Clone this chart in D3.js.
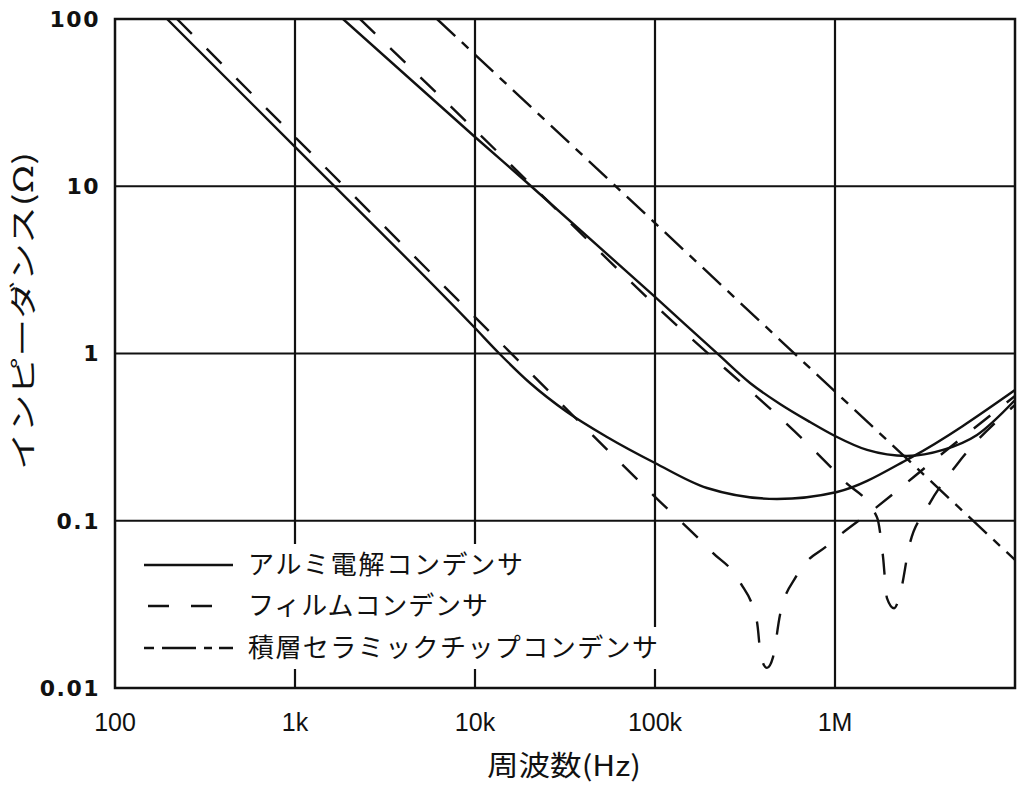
<!DOCTYPE html>
<html><head><meta charset="utf-8">
<script src="https://cdn.jsdelivr.net/npm/d3@7"></script>
<style>body{margin:0;background:#fff}</style>
</head><body><svg id="c" width="1024" height="786"></svg>
<script>
// ---- data ----
const xTicks = [100, 1e3, 1e4, 1e5, 1e6, 1e7];
const xTickLabels = ["100", "1k", "10k", "100k", "1M", ""];
const yTicks = [0.01, 0.1, 1, 10, 100];
const yTickLabels = ["0.01", "0.1", "1", "10", "100"];

const seriesNames = ["アルミ電解コンデンサ", "フィルムコンデンサ", "積層セラミックチップコンデンサ"];

// aluminium electrolytic (two curves, solid)
const alu1F = [194.5, 1000, 1e4, 13770, 20210, 32450, 54100, 1e5, 194500, 476000, 1.026e6, 2.61e6, 1e7];
const alu1Z = [100, 17.2, 1.42, 0.99, 0.666, 0.447, 0.317, 0.2215, 0.157, 0.135, 0.1486, 0.237, 0.605];
const alu2F = [1848, 1e4, 20730, 1e5, 223900, 337300, 494700, 726700, 1e6, 1.507e6, 2.51e6, 3.98e6, 6.15e6, 1e7];
const alu2Z = [100, 19.7, 9.9, 2.18, 0.99, 0.666, 0.499, 0.389, 0.321, 0.265, 0.244, 0.265, 0.326, 0.527];

// film (two curves, dashed)
const film1F = [221, 1000, 1e4, 1e5, 207400, 296500, 368700, 388000, 419000, 452600, 494700, 615000, 914000, 1.711e6, 3.98e6, 1e7];
const film1Z = [100, 19.7, 1.65, 0.139, 0.065, 0.043, 0.0248, 0.0153, 0.0132, 0.0153, 0.0273, 0.0474, 0.0716, 0.121, 0.254, 0.557];
const film2F = [2297, 1e4, 1e5, 1.107e6, 1.711e6, 1.849e6, 1.944e6, 2.13e6, 2.327e6, 2.577e6, 3.245e6, 4.82e6, 1e7];
const film2Z = [100, 21.7, 1.95, 0.1755, 0.105, 0.0607, 0.0345, 0.030, 0.0386, 0.0697, 0.119, 0.221, 0.492];

// multilayer ceramic chip (dash-dot)
const ceramF = [6150, 1e7];
const ceramZ = [100, 0.0583];

// ---- layout ----
const L = 115, R = 1015, T = 19, B = 688;
const svg = d3.select("#c");
const x = d3.scaleLog().domain([100, 1e7]).range([L, R]);
const y = d3.scaleLog().domain([0.01, 100]).range([B, T]);
const ink = "#111";
const lw = 2.4;

// grid
const g = svg.append("g");
g.selectAll("line.vx").data(xTicks.slice(1, -1)).join("line")
  .attr("x1", d => x(d)).attr("x2", d => x(d)).attr("y1", T).attr("y2", B)
  .attr("stroke", ink).attr("stroke-width", 2.2);
g.selectAll("line.hy").data(yTicks.slice(1, -1)).join("line")
  .attr("y1", d => y(d)).attr("y2", d => y(d)).attr("x1", L).attr("x2", R)
  .attr("stroke", ink).attr("stroke-width", 2.2);

// curves
svg.append("clipPath").attr("id", "clip").append("rect")
  .attr("x", L).attr("y", T).attr("width", R - L).attr("height", B - T);
const line = d3.line().x(d => x(d[0])).y(d => y(d[1])).curve(d3.curveMonotoneX);
const zip = (a, b) => a.map((v, i) => [v, b[i]]);
const curves = [
  {d: zip(alu1F, alu1Z), dash: null},
  {d: zip(alu2F, alu2Z), dash: null},
  {d: zip(film1F, film1Z), dash: "21,21"},
  {d: zip(film2F, film2Z), dash: "21,21"},
  {d: zip(ceramF, ceramZ), dash: "25,9,9,9"}
];
const cg = svg.append("g").attr("clip-path", "url(#clip)");
cg.selectAll("path").data(curves).join("path")
  .attr("d", c => line(c.d)).attr("fill", "none").attr("stroke", ink)
  .attr("stroke-width", lw).attr("stroke-dasharray", c => c.dash);

// legend
const rowsY = [565, 606, 648];
const textEnd = [523, 488, 658];
const lg = svg.append("g");
lg.selectAll("rect").data(rowsY).join("rect")
  .attr("x", 118).attr("y", (d, i) => d - 21).attr("width", (d, i) => textEnd[i] + 4 - 118)
  .attr("height", 42).attr("fill", "#fff");
// samples
lg.append("line").attr("x1", 144).attr("x2", 233).attr("y1", rowsY[0]).attr("y2", rowsY[0])
  .attr("stroke", ink).attr("stroke-width", lw);
lg.append("line").attr("x1", 148).attr("x2", 212).attr("y1", rowsY[1]).attr("y2", rowsY[1])
  .attr("stroke", ink).attr("stroke-width", lw).attr("stroke-dasharray", "21,22");
lg.append("line").attr("x1", 144).attr("x2", 233).attr("y1", rowsY[2]).attr("y2", rowsY[2])
  .attr("stroke", ink).attr("stroke-width", lw).attr("stroke-dasharray", "10,8,34,8,8,7,14");
lg.selectAll("text").data(seriesNames).join("text")
  .attr("x", 248).attr("y", (d, i) => rowsY[i]).attr("dy", "0.36em")
  .attr("font-family", "'Noto Sans CJK JP', sans-serif").attr("font-size", 26)
  .attr("fill", ink)
  .attr("textLength", (d, i) => textEnd[i] - 248).attr("lengthAdjust", "spacing")
  .text(d => d);

// frame
svg.append("rect").attr("x", L).attr("y", T).attr("width", R - L).attr("height", B - T)
  .attr("fill", "none").attr("stroke", ink).attr("stroke-width", 2.5);

// tick labels
svg.selectAll("text.yl").data(yTicks).join("text").attr("class", "yl")
  .attr("x", 100).attr("y", d => y(d)).attr("dy", "0.36em").attr("text-anchor", "end")
  .attr("font-family", "'DejaVu Sans', sans-serif").attr("font-weight", "bold")
  .attr("font-size", 22).attr("letter-spacing", 1.5).attr("fill", ink)
  .text((d, i) => yTickLabels[i]);
svg.selectAll("text.xl").data(xTicks).join("text").attr("class", "xl")
  .attr("x", d => x(d)).attr("y", 731).attr("text-anchor", "middle")
  .attr("font-family", "'Liberation Sans', sans-serif")
  .attr("font-size", 25).attr("fill", ink)
  .text((d, i) => xTickLabels[i]);

// axis titles
svg.append("text").attr("x", 487).attr("y", 776)
  .attr("font-family", "'Noto Sans CJK JP', sans-serif").attr("font-size", 28).attr("fill", ink)
  .attr("textLength", 154).attr("lengthAdjust", "spacingAndGlyphs")
  .text("周波数(Hz)");
svg.append("text").attr("transform", "translate(33,470) rotate(-90)")
  .attr("font-family", "'Noto Sans CJK JP', sans-serif").attr("font-size", 27).attr("fill", ink)
  .attr("textLength", 318).attr("lengthAdjust", "spacingAndGlyphs")
  .text("インピーダンス(Ω)");
</script></body></html>
